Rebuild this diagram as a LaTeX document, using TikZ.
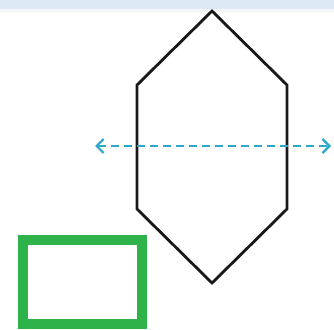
\documentclass[tikz,border=0pt]{standalone}
\usetikzlibrary{arrows.meta}
\definecolor{band}{HTML}{DCE8F4}
\definecolor{arrowc}{HTML}{2EA8C8}
\definecolor{boxg}{HTML}{2DB34A}
\tikzset{
  hexline/.style={line width=2.8pt, line join=miter, black!90},
  dasharrow/.style={arrowc, line width=2.2pt, dash pattern=on 8pt off 5pt, {Straight Barb[length=7pt,width=14pt,line width=2.2pt]}-{Straight Barb[length=7pt,width=14pt,line width=2.2pt]}},
  greenbox/.style={boxg, line width=10pt, line join=miter}
}
\begin{document}
\begin{tikzpicture}[x=1pt,y=-1pt]
\useasboundingbox (0,0) rectangle (334,329);
\fill[band] (0,0) rectangle (334,9);
\fill[band!40] (0,9) rectangle (334,12);
\coordinate (t) at (212,11);
\coordinate (ul) at (137,85);
\coordinate (ll) at (137,209);
\coordinate (b) at (212,283);
\coordinate (lr) at (287,209);
\coordinate (ur) at (287,85);
\draw[hexline] (t) -- (ul) -- (ll) -- (b) -- (lr) -- (ur) -- cycle;
\coordinate (al) at (95,146);
\coordinate (ar) at (331,146);
\draw[dasharrow] (al) -- (ar);
\draw[greenbox] (23,240) rectangle (142,324);
\end{tikzpicture}
\end{document}
